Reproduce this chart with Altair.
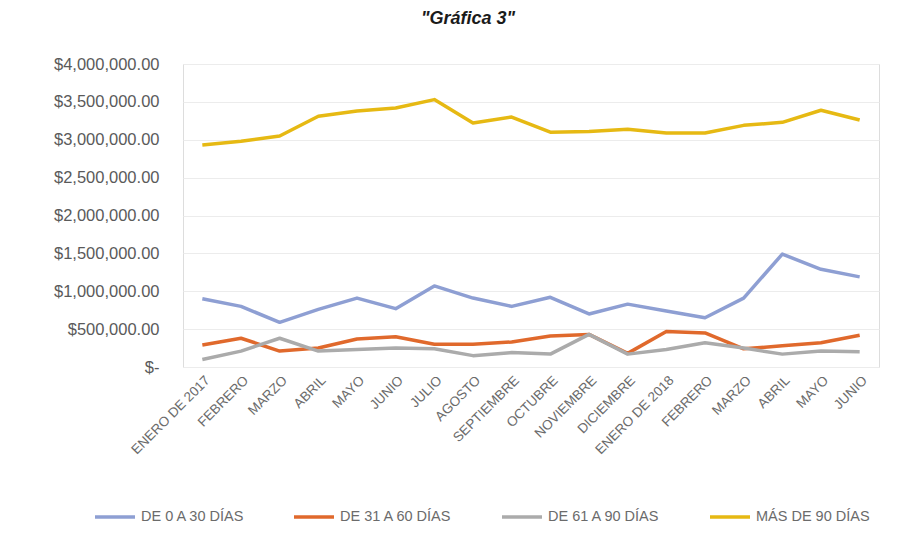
import altair as alt
import pandas as pd

months = ["ENERO DE 2017", "FEBRERO", "MARZO", "ABRIL", "MAYO", "JUNIO", "JULIO",
          "AGOSTO", "SEPTIEMBRE", "OCTUBRE", "NOVIEMBRE", "DICIEMBRE",
          "ENERO DE 2018", "FEBRERO", "MARZO", "ABRIL", "MAYO", "JUNIO"]

series_names = ["DE 0 A 30 DÍAS", "DE 31 A 60 DÍAS", "DE 61 A 90 DÍAS", "MÁS DE 90 DÍAS"]

de_0_30 = [900000, 800000, 590000, 760000, 910000, 770000, 1070000, 910000, 800000,
           920000, 700000, 830000, 740000, 650000, 910000, 1490000, 1290000, 1190000]
de_31_60 = [290000, 380000, 210000, 250000, 370000, 400000, 300000, 300000, 330000,
            410000, 430000, 180000, 470000, 450000, 240000, 280000, 320000, 420000]
de_61_90 = [100000, 210000, 380000, 210000, 230000, 250000, 240000, 150000, 190000,
            170000, 430000, 170000, 230000, 320000, 250000, 170000, 210000, 200000]
mas_90 = [2930000, 2980000, 3050000, 3310000, 3380000, 3420000, 3530000, 3220000, 3300000,
          3100000, 3110000, 3140000, 3090000, 3090000, 3190000, 3230000, 3390000, 3260000]

colors = ["#8E9FD3", "#E0692C", "#ABABAB", "#E6B913"]

rows = []
for name, vals in zip(series_names, [de_0_30, de_31_60, de_61_90, mas_90]):
    for i, v in enumerate(vals):
        rows.append({"idx": i, "serie": name, "valor": v})
df = pd.DataFrame(rows)

label_array = "[" + ",".join("'" + m + "'" for m in months) + "]"

chart = alt.Chart(df).mark_line(strokeWidth=3.5, strokeJoin="round").encode(
    x=alt.X("idx:O", title=None,
            scale=alt.Scale(paddingInner=1, paddingOuter=0.5),
            axis=alt.Axis(labelExpr=label_array + "[datum.value]", labelAngle=-45,
                          labelFont="Liberation Sans", labelFontSize=13.5,
                          labelColor="#6b6b6b", ticks=False, domain=False,
                          labelPadding=6, grid=False)),
    y=alt.Y("valor:Q", title=None,
            scale=alt.Scale(domain=[0, 4000000]),
            axis=alt.Axis(values=[0, 500000, 1000000, 1500000, 2000000, 2500000,
                                  3000000, 3500000, 4000000],
                          labelExpr="datum.value == 0 ? '$-      ' : '$' + format(datum.value, ',.2f')",
                          labelFont="Liberation Sans", labelFontSize=16.5,
                          labelColor="#5a5a5a", ticks=False, domain=False,
                          gridColor="#ececec", gridWidth=1, labelPadding=24)),
    color=alt.Color("serie:N", title=None,
                    scale=alt.Scale(domain=series_names, range=colors),
                    legend=alt.Legend(orient="none", direction="horizontal",
                                      legendX=-90, legendY=431,
                                      symbolType="stroke", symbolStrokeWidth=3.5,
                                      symbolSize=1600, labelFont="Liberation Sans",
                                      labelFontSize=14.5, labelColor="#6b6b6b",
                                      columnPadding=42)),
    order=alt.Order("idx:O"),
).properties(
    width=696, height=303,
    title=alt.TitleParams('"Gráfica 3"', font="Liberation Sans", fontSize=18,
                          fontStyle="italic", fontWeight="bold", color="#1a1a1a",
                          anchor="middle", offset=28, dx=-63),
).configure_view(stroke=None).configure(
    padding={"left": 53, "top": 10, "right": 10, "bottom": 10}
)

chart.save("out.html", embed_options={"renderer": "svg", "actions": False})
